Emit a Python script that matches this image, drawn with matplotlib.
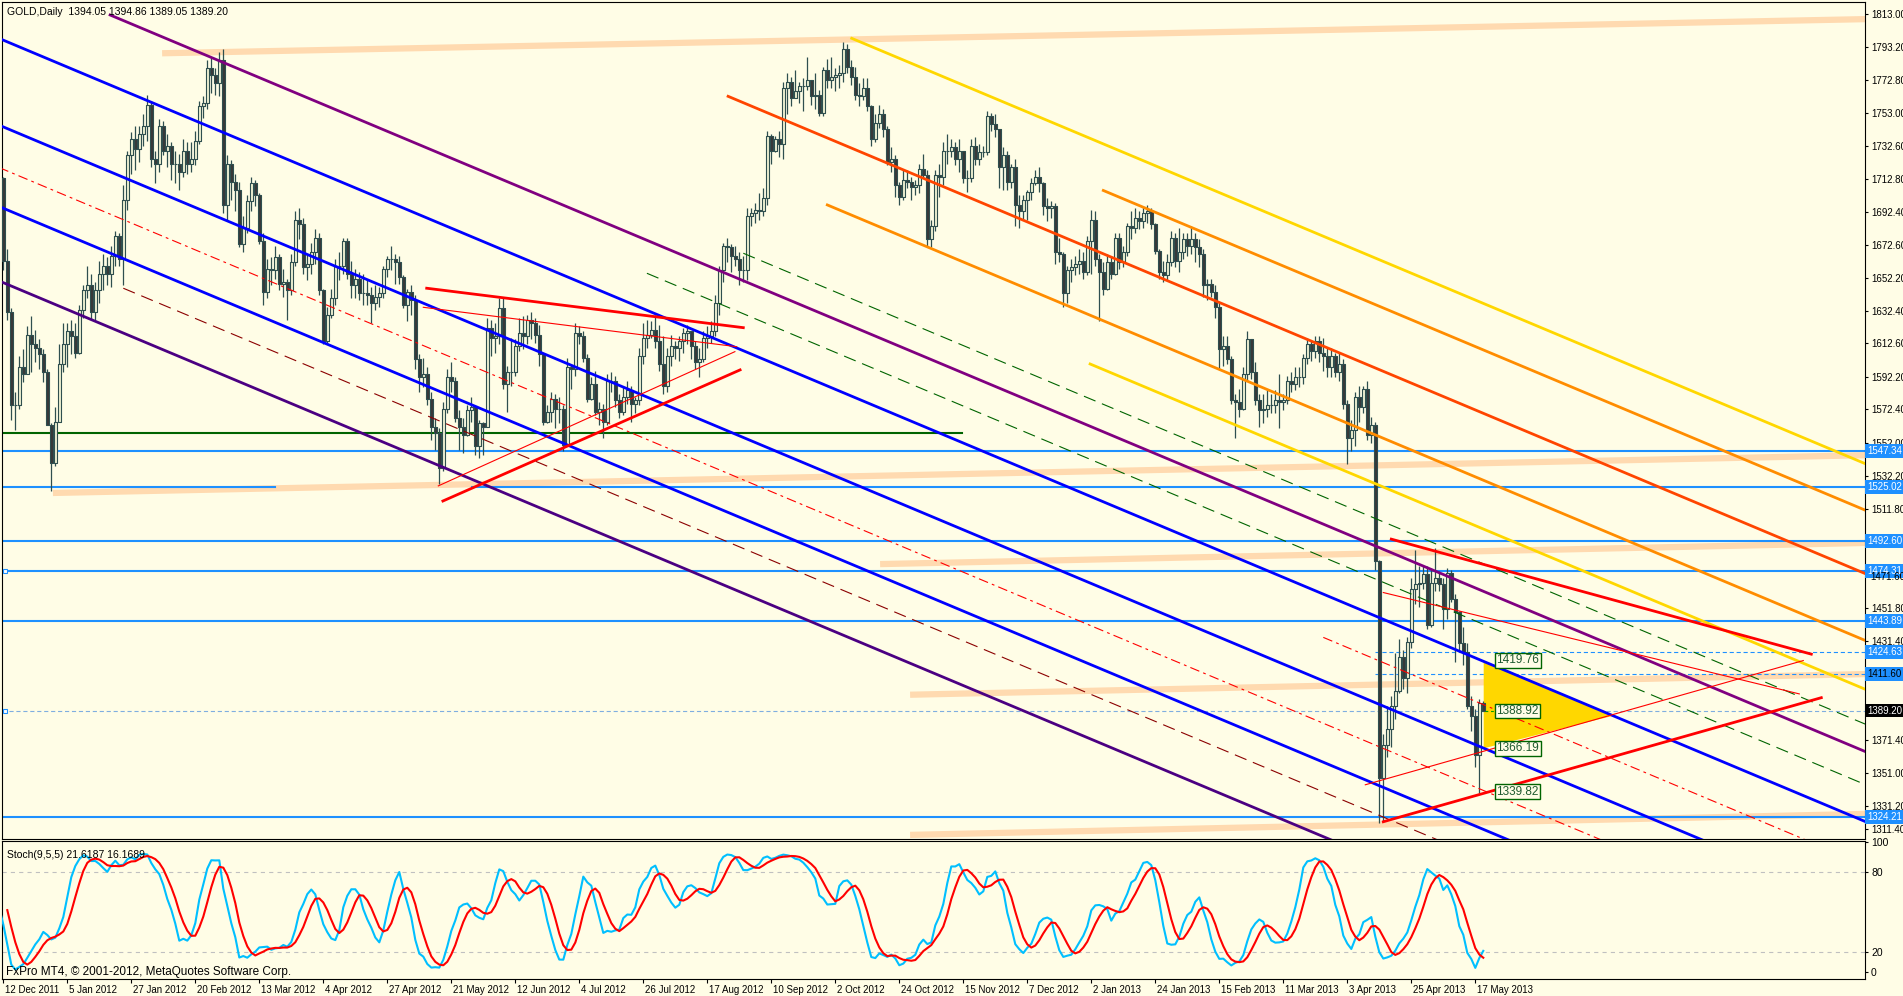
import numpy as np
import pandas as pd
import matplotlib
matplotlib.use("Agg")
import matplotlib.pyplot as plt
from matplotlib.patches import Rectangle, Polygon
from matplotlib.collections import LineCollection, PatchCollection
from matplotlib.transforms import blended_transform_factory, ScaledTranslation

plt.rcParams['font.family'] = ['Liberation Sans', 'DejaVu Sans']
plt.rcParams['lines.scale_dashes'] = False

W, H = 1903, 996
BG = '#FFFDE6'

#-------- bars: trading days on the chart (these holidays have no bar) --------
holidays = ['2011-12-26', '2012-01-02', '2012-04-06', '2012-12-25', '2013-01-01', '2013-03-29']
days = pd.bdate_range('2011-12-12', '2013-05-21')
days = days[~days.isin(pd.to_datetime(holidays))]

#-------- GOLD daily close / high / low, month by month --------
close_px = [
    1663, 1632, 1575, 1575, 1598, 1594, 1618, 1612, 1610, 1606, 1595, 1563, 1540, 1565,                    # Dec 11
    1600, 1612, 1620, 1617, 1607, 1633, 1645, 1648, 1632, 1645, 1655, 1660, 1655, 1666, 1678, 1664, 1700,
    1727, 1737, 1731, 1740,                                                                                # Jan 12
    1745, 1758, 1725, 1722, 1745, 1730, 1733, 1722, 1722, 1717, 1730, 1722, 1725, 1736, 1757, 1759, 1780,
    1776, 1771, 1785, 1697,                                                                                # Feb
    1722, 1711, 1706, 1673, 1683, 1699, 1710, 1703, 1675, 1644, 1658, 1657, 1665, 1649, 1650, 1645, 1662,
    1688, 1685, 1659, 1661, 1668,                                                                          # Mar
    1677, 1645, 1614, 1630, 1640, 1660, 1660, 1675, 1655, 1648, 1652, 1643, 1643, 1642, 1637, 1641, 1643,
    1658, 1664, 1664,                                                                                      # Apr
    1662, 1653, 1636, 1644, 1639, 1603, 1592, 1594, 1579, 1562, 1558, 1537, 1573, 1592, 1590, 1567, 1562,
    1557, 1572, 1574, 1550, 1564, 1562,                                                                    # May
    1622, 1616, 1617, 1634, 1588, 1595, 1595, 1611, 1619, 1617, 1627, 1625, 1618, 1606, 1565, 1571, 1579,
    1573, 1573, 1551, 1598,                                                                                # Jun
    1597, 1619, 1617, 1604, 1579, 1588, 1571, 1573, 1565, 1590, 1590, 1578, 1571, 1580, 1584, 1576, 1578,
    1605, 1616, 1618, 1621, 1614,                                                                          # Jul
    1600, 1587, 1605, 1611, 1610, 1614, 1619, 1620, 1611, 1601, 1603, 1616, 1617, 1620, 1637, 1657, 1672,
    1671, 1666, 1664, 1657, 1657, 1690,                                                                    # Aug
    1692, 1694, 1693, 1701, 1739, 1730, 1737, 1734, 1768, 1772, 1762, 1766, 1769, 1769, 1773, 1763, 1764,
    1753, 1779, 1773,                                                                                      # Sep
    1775, 1776, 1777, 1792, 1781, 1775, 1764, 1763, 1768, 1757, 1737, 1747, 1752, 1743, 1723, 1725, 1709,
    1702, 1712, 1711, 1708, 1709, 1719,                                                                    # Oct
    1715, 1676, 1684, 1715, 1714, 1730, 1730, 1732, 1725, 1730, 1713, 1713, 1733, 1725, 1729, 1729, 1751,
    1746, 1743, 1720, 1727, 1711,                                                                          # Nov
    1720, 1697, 1693, 1700, 1705, 1710, 1714, 1710, 1696, 1695, 1696, 1668, 1667, 1643, 1657, 1659, 1661,
    1663, 1656, 1675,                                                                                      # Dec
    1688, 1664, 1656, 1646, 1662, 1655, 1677, 1662, 1668, 1684, 1683, 1689, 1687, 1692, 1693, 1685, 1669,
    1656, 1654, 1662, 1677, 1663,                                                                          # Jan 13
    1668, 1676, 1672, 1676, 1671, 1667, 1648, 1649, 1644, 1635, 1609, 1611, 1603, 1578, 1577, 1573, 1594,
    1615, 1595, 1578,                                                                                      # Feb
    1572, 1573, 1575, 1575, 1578, 1577, 1578, 1590, 1588, 1592, 1592, 1604, 1612, 1608, 1614, 1607, 1605,
    1598, 1605, 1595,                                                                                      # Mar
    1600, 1576, 1555, 1560, 1580, 1574, 1585, 1557, 1563, 1480, 1348, 1368, 1378, 1392, 1401, 1422, 1409,
    1431, 1463, 1466, 1467, 1472,                                                                          # Apr
    1441, 1467, 1470, 1466, 1451, 1473, 1457, 1449, 1430, 1425, 1392, 1386, 1362, 1394.05, 1389.20,       # May
]
high_px = [
    1714, 1670, 1634, 1583, 1605, 1609, 1623, 1629, 1621, 1615, 1609, 1597, 1564, 1574,
    1612, 1625, 1625, 1627, 1625, 1636, 1648, 1660, 1655, 1650, 1663, 1667, 1665, 1672, 1681, 1680, 1709,
    1730, 1741, 1745, 1745,
    1752, 1764, 1760, 1730, 1749, 1748, 1740, 1735, 1730, 1728, 1737, 1735, 1735, 1742, 1760, 1763, 1785,
    1787, 1780, 1790, 1792,
    1727, 1724, 1716, 1711, 1690, 1703, 1714, 1712, 1704, 1680, 1664, 1665, 1672, 1667, 1658, 1652, 1667,
    1693, 1695, 1689, 1667, 1674,
    1682, 1680, 1646, 1635, 1646, 1664, 1668, 1677, 1677, 1663, 1658, 1656, 1655, 1652, 1647, 1648, 1647,
    1660, 1666, 1672,
    1667, 1666, 1654, 1646, 1648, 1642, 1606, 1604, 1598, 1583, 1567, 1561, 1577, 1597, 1601, 1592, 1572,
    1567, 1575, 1580, 1574, 1566, 1565,
    1628, 1627, 1625, 1640, 1640, 1599, 1616, 1615, 1628, 1629, 1630, 1632, 1628, 1624, 1606, 1575, 1583,
    1582, 1580, 1575, 1604,
    1600, 1625, 1623, 1620, 1606, 1592, 1596, 1577, 1576, 1594, 1595, 1593, 1582, 1586, 1590, 1587, 1580,
    1610, 1625, 1627, 1626, 1630,
    1624, 1617, 1610, 1618, 1614, 1617, 1622, 1624, 1620, 1614, 1610, 1620, 1623, 1626, 1642, 1660, 1674,
    1677, 1673, 1672, 1668, 1666, 1695,
    1695, 1698, 1704, 1707, 1742, 1740, 1739, 1742, 1772, 1777, 1775, 1779, 1772, 1774, 1787, 1772, 1777,
    1767, 1781, 1786,
    1787, 1780, 1782, 1796, 1795, 1785, 1781, 1771, 1774, 1774, 1758, 1752, 1758, 1755, 1745, 1732, 1727,
    1711, 1718, 1718, 1714, 1712, 1722,
    1728, 1718, 1688, 1718, 1722, 1735, 1740, 1737, 1735, 1737, 1730, 1718, 1737, 1738, 1734, 1733, 1754,
    1753, 1752, 1743, 1732, 1730,
    1722, 1725, 1703, 1703, 1706, 1713, 1718, 1720, 1711, 1701, 1699, 1698, 1677, 1668, 1660, 1664, 1666,
    1670, 1668, 1678,
    1694, 1693, 1667, 1662, 1667, 1666, 1680, 1680, 1672, 1686, 1693, 1695, 1693, 1696, 1697, 1695, 1686,
    1670, 1663, 1667, 1681, 1680,
    1683, 1680, 1680, 1684, 1680, 1676, 1670, 1652, 1652, 1648, 1638, 1617, 1617, 1605, 1582, 1585, 1598,
    1620, 1615, 1601,
    1582, 1582, 1584, 1582, 1584, 1594, 1582, 1593, 1595, 1598, 1598, 1606, 1616, 1614, 1617, 1617, 1616,
    1610, 1610, 1607,
    1607, 1603, 1578, 1566, 1583, 1587, 1587, 1590, 1568, 1565, 1481, 1375, 1392, 1398, 1424, 1433, 1426,
    1434, 1470, 1487, 1477, 1478,
    1477, 1476, 1488, 1474, 1470, 1476, 1475, 1460, 1450, 1440, 1430, 1398, 1390, 1396, 1394.86,
]
low_px = [
    1657, 1627, 1566, 1560, 1573, 1589, 1594, 1595, 1601, 1597, 1589, 1563, 1523, 1538,
    1565, 1595, 1598, 1606, 1604, 1606, 1628, 1640, 1627, 1626, 1637, 1645, 1648, 1647, 1660, 1660, 1648,
    1694, 1716, 1718, 1723,
    1733, 1736, 1720, 1710, 1717, 1727, 1720, 1712, 1710, 1706, 1714, 1716, 1717, 1721, 1734, 1750, 1755,
    1765, 1764, 1763, 1692,
    1687, 1700, 1693, 1671, 1668, 1680, 1693, 1696, 1673, 1636, 1640, 1648, 1652, 1645, 1641, 1627, 1642,
    1660, 1676, 1655, 1651, 1655,
    1661, 1642, 1612, 1612, 1628, 1636, 1651, 1655, 1652, 1640, 1640, 1639, 1636, 1636, 1625, 1633, 1635,
    1640, 1653, 1657,
    1649, 1649, 1634, 1626, 1630, 1597, 1583, 1586, 1575, 1554, 1548, 1527, 1535, 1570, 1583, 1565, 1548,
    1546, 1556, 1565, 1545, 1543, 1545,
    1562, 1605, 1607, 1612, 1585, 1571, 1587, 1593, 1608, 1609, 1612, 1615, 1613, 1599, 1563, 1564, 1565,
    1561, 1564, 1547, 1550,
    1585, 1593, 1612, 1601, 1577, 1578, 1569, 1563, 1555, 1563, 1583, 1574, 1567, 1569, 1576, 1565, 1570,
    1575, 1600, 1610, 1616, 1610,
    1596, 1582, 1583, 1599, 1603, 1602, 1607, 1612, 1603, 1597, 1592, 1601, 1610, 1613, 1617, 1630, 1650,
    1662, 1656, 1660, 1648, 1650, 1651,
    1684, 1686, 1688, 1690, 1697, 1722, 1729, 1726, 1725, 1752, 1757, 1762, 1759, 1754, 1767, 1758, 1755,
    1751, 1751, 1768,
    1768, 1766, 1768, 1772, 1777, 1770, 1761, 1757, 1761, 1754, 1733, 1735, 1744, 1738, 1721, 1717, 1702,
    1697, 1700, 1707, 1700, 1703, 1704,
    1713, 1672, 1671, 1681, 1702, 1709, 1722, 1726, 1721, 1717, 1710, 1705, 1711, 1721, 1721, 1726, 1727,
    1742, 1738, 1707, 1706, 1706,
    1707, 1684, 1683, 1688, 1688, 1700, 1709, 1705, 1691, 1687, 1689, 1661, 1662, 1635, 1637, 1650, 1654,
    1655, 1652, 1654,
    1655, 1660, 1626, 1642, 1645, 1652, 1654, 1658, 1659, 1666, 1676, 1680, 1682, 1683, 1686, 1682, 1667,
    1652, 1650, 1651, 1660, 1659,
    1656, 1664, 1666, 1667, 1662, 1659, 1641, 1639, 1641, 1628, 1597, 1599, 1600, 1576, 1555, 1568, 1572,
    1590, 1591, 1575,
    1562, 1564, 1568, 1570, 1570, 1561, 1572, 1576, 1583, 1584, 1586, 1588, 1600, 1602, 1604, 1601, 1596,
    1592, 1592, 1592,
    1590, 1573, 1539, 1547, 1550, 1565, 1570, 1554, 1552, 1475, 1321, 1322, 1361, 1367, 1384, 1400, 1402,
    1400, 1427, 1454, 1452, 1463,
    1439, 1440, 1462, 1462, 1439, 1445, 1455, 1419, 1426, 1417, 1390, 1377, 1355, 1339, 1389.05,
]
# bars 21 Nov - 9 Dec 2011 (left of the chart), only to start the stochastic
pre_close = [1676, 1700, 1693, 1697, 1684, 1713, 1716, 1746, 1745, 1746, 1722, 1730, 1742, 1712, 1713]
pre_high = [1700, 1705, 1704, 1701, 1700, 1719, 1720, 1753, 1754, 1761, 1750, 1735, 1760, 1748, 1721]
pre_low = [1668, 1671, 1683, 1689, 1675, 1685, 1705, 1705, 1734, 1738, 1716, 1703, 1727, 1706, 1700]

#-------- objects on the chart (bar index, price) --------
blue_lines = [(-1, 1798.2, 466, 1321.1), (-1, 1745.4, 466, 1268.3), (-1, 1695.9, 466, 1218.8)]
purple_upper = (26.7, 1812.5, 466, 1363.7)
purple_lower = (-1, 1650.6, 466, 1173.5)
red_mid_lines = [(-1, 1719.6, 466, 1242.5), (330, 1433.7, 466, 1294.7)]
darkred_mid = (30, 1646.2, 466, 1200.7)
green_mid = [(185, 1667.5, 466, 1380.4), (160.9, 1655.3, 466, 1343.6)]
orangered_line = (181.2, 1763.0, 466, 1472.0)
orange_lines = [(206, 1696.9, 466, 1431.3), (275, 1705.7, 466, 1510.6)]
gold_lines = [(212.1, 1798.3, 466, 1538.9), (271.7, 1600.1, 466, 1401.6)]
red_thick = [(105.85, 1646.2, 185, 1622.2), (109.9, 1516.7, 184.2, 1596.5),
             (345, 1321.5, 454.5, 1397.0), (347, 1493.5, 452, 1423.5)]
red_thin = [(105, 1634.6, 183.35, 1610.6), (108.75, 1525.9, 182.9, 1607.6),
            (340.5, 1344.0, 450, 1419.6), (345, 1461.0, 449, 1399.3)]
peach_bands = [(39.7, 1789.2, 466, 1810.0), (12.4, 1521.6, 466, 1544.6), (219.2, 1478.3, 466, 1491.2),
               (226.7, 1398.8, 466, 1411.4), (226.7, 1313.5, 466, 1326.3)]
hline_full = [1547.34, 1492.60, 1474.31, 1443.89, 1324.21]
hline_1525 = [(-1, 67.9), (117.2, 466)]
hline_dashed = [(343, 1424.63), (343, 1411.60)]
green_level = (-1, 239.7, 1558.3)
bid = 1389.20
triangle = [(370.1, 1419.6), (370.1, 1366.2), (402.3, 1385.9)]
fib_labels = [1419.76, 1388.92, 1366.19, 1339.82]

price_ticks = [1813.00, 1793.20, 1772.80, 1753.00, 1732.60, 1712.80, 1692.40, 1672.60, 1652.20, 1632.40,
               1612.60, 1592.20, 1572.40, 1552.00, 1532.20, 1511.80, 1451.80, 1431.40,
               1371.40, 1351.00, 1331.20]
price_boxes = [1547.34, 1525.02, 1492.60, 1474.31, 1443.89, 1424.63, 1324.21]

if not (len(close_px) == len(high_px) == len(low_px) == len(days)):
    raise SystemExit('length mismatch %d %d %d %d' % (len(close_px), len(high_px), len(low_px), len(days)))

c = np.array(close_px, dtype=float)
o = np.r_[pre_close[-1], c[:-1]]
o[-1] = 1394.05
h = np.maximum(np.array(high_px, dtype=float), np.maximum(o, c))
l = np.minimum(np.array(low_px, dtype=float), np.minimum(o, c))
x = np.arange(len(c))

#-------- Stoch(9,5,5) --------
def Stochastic(hi, lo, cl, kp=9, dp=5, slow=5):
    hh = pd.Series(hi).rolling(kp).max()
    ll = pd.Series(lo).rolling(kp).min()
    num = (pd.Series(cl) - ll).rolling(slow).sum()
    den = (hh - ll).rolling(slow).sum()
    k = 100.0 * num / den
    d = k.rolling(dp).mean()
    return k.values, d.values

K, D = Stochastic(np.r_[pre_high, h], np.r_[pre_low, l], np.r_[pre_close, c])
npre = len(pre_close)
xs = np.arange(-npre, len(c))

#-------- figure --------
fig = plt.figure(figsize=(W / 100, H / 100), dpi=100, facecolor=BG)
ax = fig.add_axes([2 / W, 1 - 839 / H, 1863 / W, 837 / H], facecolor=BG)
axs = fig.add_axes([2 / W, 1 - 979 / H, 1863 / W, 138 / H], facecolor=BG)
xlim = ((2 - 3.3) / 4, (1865 - 3.3) / 4)

def seg(a, **kw):
    ax.plot([a[0], a[2]], [a[1], a[3]], **kw)

for b in peach_bands:
    seg(b, color='#FFDAB0', lw=4.5, solid_capstyle='butt', zorder=1)
for p in hline_full:
    ax.plot(xlim, [p, p], color='#1E90FF', lw=1.5, zorder=2)
for a0, a1 in hline_1525:
    ax.plot([a0, a1], [1525.02, 1525.02], color='#1E90FF', lw=1.5, zorder=2)
for a0, p in hline_dashed:
    ax.plot([a0, 466], [p, p], color='#1E90FF', lw=0.8, dashes=(3, 2), zorder=2)
ax.plot([green_level[0], green_level[1]], [green_level[2]] * 2, color='#006400', lw=1.5, zorder=2)
ax.plot(xlim, [bid, bid], color='#7FAEE0', lw=0.8, dashes=(3, 2), zorder=2)
for p in [1474.31, bid]:
    ax.plot(0.3, p, 's', ms=3.5, mfc='white', mec='#1E90FF', mew=0.8, zorder=6, clip_on=False)

ax.add_patch(Polygon(triangle, closed=True, fc='#FFD700', ec='none', zorder=2.5))

# candles
wicks = LineCollection([[(i, l[i]), (i, h[i])] for i in x], colors='#2F4F4F', linewidths=0.9, zorder=3)
ax.add_collection(wicks)
bodies = [Rectangle((i - 0.33, min(o[i], c[i])), 0.66, abs(c[i] - o[i])) for i in x]
fcols = ['#EEF0D2' if c[i] >= o[i] else '#383838' for i in x]
ax.add_collection(PatchCollection(bodies, facecolors=fcols, edgecolors='#2F4F4F', linewidths=0.8, zorder=3.1))

# trend lines
for b in blue_lines:
    seg(b, color='#0000FF', lw=2.0, zorder=4)
seg(purple_upper, color='#800080', lw=2.0, zorder=4)
seg(purple_lower, color='#4B0082', lw=2.0, zorder=4)
for b in red_mid_lines:
    seg(b, color='#FF0000', lw=0.8, dashes=(7, 3, 2, 3), zorder=4)
seg(darkred_mid, color='#8B0000', lw=0.8, dashes=(9, 5), zorder=4)
for b in green_mid:
    seg(b, color='#006400', lw=0.8, dashes=(9, 5), zorder=4)
seg(orangered_line, color='#FF4500', lw=2.0, zorder=4)
for b in orange_lines:
    seg(b, color='#FF8C00', lw=2.0, zorder=4)
for b in gold_lines:
    seg(b, color='#FFD700', lw=2.0, zorder=4)
for b in red_thick:
    seg(b, color='#FF0000', lw=2.0, zorder=4)
for b in red_thin:
    seg(b, color='#FF0000', lw=0.8, zorder=4)

# price labels of the last swing
ax.plot([370.4, 372.8], [1388.92, 1388.92], color='#00A000', lw=0.8, dashes=(2, 2), zorder=5)
for p in fib_labels:
    ax.text(373.3, p, '%.2f' % p, fontsize=8.5, color='#1F5A2F', ha='left', va='center', zorder=7,
            bbox=dict(boxstyle='square,pad=0.12', fc=BG, ec='#006400', lw=1.0))

ax.set_xlim(*xlim)
ax.set_ylim(1311.0, 1820.4)
ax.yaxis.tick_right()
ax.set_yticks(price_ticks + [1471.60, 1411.60, 1391.20, 1317.1])
ax.set_yticklabels(['%.2f' % v for v in price_ticks] + ['', '', '', '1311.40'])
ax.tick_params(axis='y', length=2.2, width=0.8, pad=2.2, labelsize=7, colors='black')
ax.tick_params(axis='x', bottom=False, labelbottom=False)
for sp in ax.spines.values():
    sp.set_color('black'); sp.set_linewidth(0.8)

tb = blended_transform_factory(ax.transAxes, ax.transData)
for p in price_boxes:
    ax.text(1.0011, p, '%.2f' % p, transform=tb, ha='left', va='center', fontsize=7, color='white',
            zorder=20, clip_on=False, bbox=dict(boxstyle='square,pad=0.2', fc='#1E90FF', ec='none'))
ax.text(1.0011, bid, '%.2f' % bid, transform=tb, ha='left', va='center', fontsize=7, color='white',
        zorder=20, clip_on=False, bbox=dict(boxstyle='square,pad=0.2', fc='black', ec='none'))
# 1411.60 box carries the axis label in black, 1471.60 shows through under the 1474.31 box
ax.text(1.0011, 1411.60, '1411.60', transform=tb, ha='left', va='center', fontsize=7, color='black',
        zorder=20, clip_on=False, bbox=dict(boxstyle='square,pad=0.2', fc='#1E90FF', ec='none'))
ax.text(1.0030, 1470.2, '1471.60', transform=tb, ha='left', va='center', fontsize=7, color='black',
        zorder=21, clip_on=False)

ax.text(0.0027, 0.988, 'GOLD,Daily  %.2f %.2f %.2f %.2f' % (1394.05, 1394.86, 1389.05, 1389.20),
        transform=ax.transAxes, fontsize=7.5, ha='left', va='center', zorder=22)

#-------- stochastic window --------
axs.plot(xs, K, color='#00BFFF', lw=1.5, zorder=3)
axs.plot(xs, D, color='#FF0000', lw=1.5, zorder=4)
for lv in (80, 20):
    axs.axhline(lv, color='#C0C0C0', lw=0.8, dashes=(3, 3), zorder=1)
axs.set_xlim(*xlim)
axs.set_ylim(-0.25, 103.25)
axs.yaxis.tick_right()
axs.set_yticks([102.7, 80, 20, 5.2])
axs.set_yticklabels(['100', '80', '20', '0'])
axs.tick_params(axis='y', length=2.2, width=0.8, pad=2.2, labelsize=7.5)
tick_idx = x[::16]
axs.set_xticks(tick_idx)
axs.set_xticklabels(['%d %s' % (days[i].day, days[i].strftime('%b %Y')) for i in tick_idx], ha='left')
axs.tick_params(axis='x', length=3, width=0.8, pad=1.5, labelsize=7)
off = ScaledTranslation(2 / 100, 0, fig.dpi_scale_trans)
for lb in axs.get_xticklabels():
    lb.set_transform(lb.get_transform() + off)
for sp in axs.spines.values():
    sp.set_color('black'); sp.set_linewidth(0.8)
axs.text(0.0027, 0.9, 'Stoch(9,5,5) %.4f %.4f' % (21.6187, 16.1689), transform=axs.transAxes,
         fontsize=7.5, ha='left', va='center', zorder=10)
axs.text(0.002, 0.05, 'FxPro MT4, \u00a9 2001-2012, MetaQuotes Software Corp.', transform=axs.transAxes,
         fontsize=8.5, ha='left', va='center', zorder=10)

fig.savefig('out.png', dpi=100, facecolor=BG)
